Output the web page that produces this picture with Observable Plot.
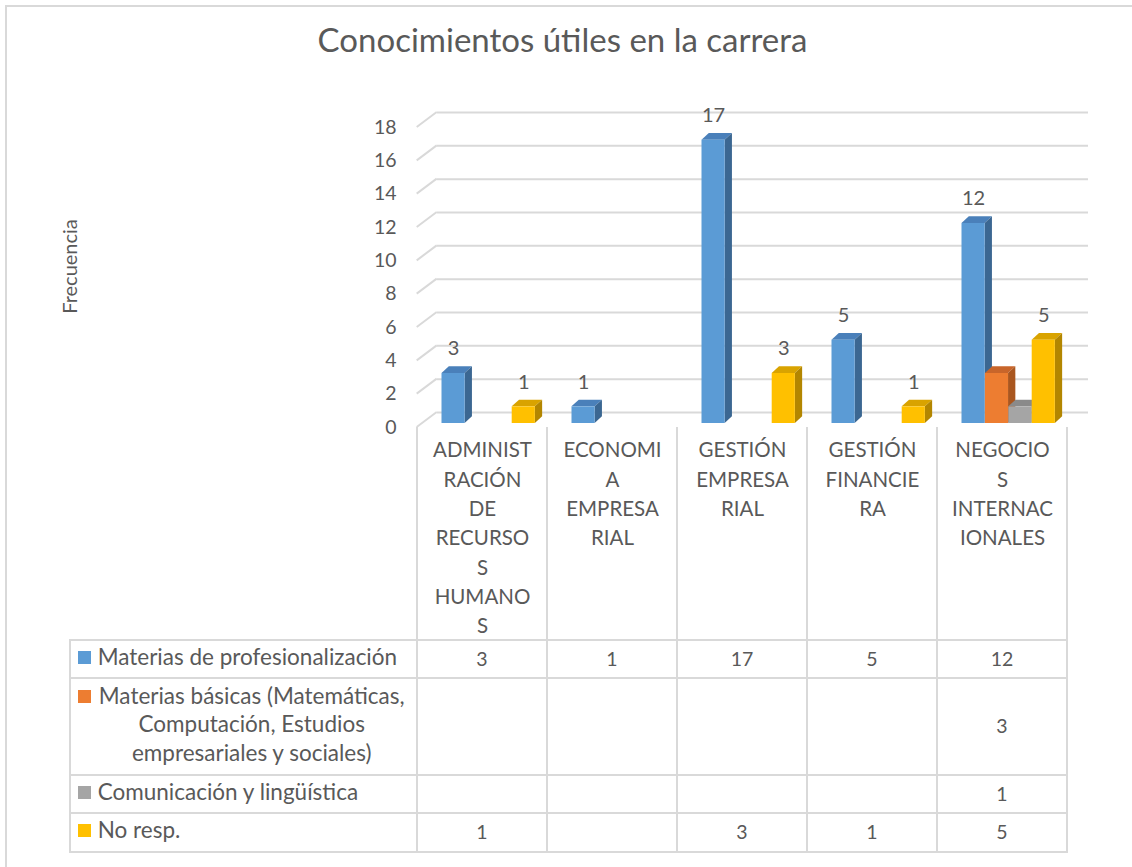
<!DOCTYPE html>
<html lang="es">
<head>
<meta charset="utf-8">
<script src="https://cdn.jsdelivr.net/npm/d3@7"></script>
<script src="https://cdn.jsdelivr.net/npm/@observablehq/plot@0.6"></script>
<style>
html,body{margin:0;padding:0;background:#fff;}
#wrap{position:relative;width:1132px;height:867px;overflow:hidden;font-family:Lato,"Open Sans",sans-serif;color:#595959;}
#frame{position:absolute;left:5px;top:5px;width:1200px;height:1000px;border-left:2px solid #d9d9d9;border-top:2px solid #d9d9d9;box-sizing:border-box;}
#title{position:absolute;left:0;width:1125px;top:22.7px;text-align:center;font-size:33px;line-height:33px;white-space:nowrap;}
#table,#chart{position:absolute;left:0;top:0;}
.hl{position:absolute;height:2px;background:#d9d9d9;}
.vl{position:absolute;width:2px;background:#d9d9d9;}
.cell{position:absolute;display:flex;align-items:center;font-size:22.5px;line-height:28.5px;}
.num{justify-content:center;font-size:19.5px;}
.inner{position:relative;transform:translateY(-2px);}
.key{position:absolute;left:0;width:13px;height:13px;}
</style>
</head>
<body>
<div id="wrap">
  <div id="frame"></div>
  <div id="title"></div>
  <div id="table"></div>
  <div id="chart"></div>
</div>
<script>
// ---------- data ----------
const categories = ["ADMINISTRACIÓN DE RECURSOS HUMANOS", "ECONOMIA EMPRESARIAL", "GESTIÓN EMPRESARIAL", "GESTIÓN FINANCIERA", "NEGOCIOS INTERNACIONALES"];
const categoryTickLabels = ["ADMINIST\nRACIÓN\nDE\nRECURSO\nS\nHUMANO\nS", "ECONOMI\nA\nEMPRESA\nRIAL", "GESTIÓN\nEMPRESA\nRIAL", "GESTIÓN\nFINANCIE\nRA", "NEGOCIO\nS\nINTERNAC\nIONALES"];
const seriesNames = ["Materias de profesionalización", "Materias básicas (Matemáticas, Computación, Estudios empresariales y sociales)", "Comunicación y lingüística", "No resp."];
const seriesLegendLines = [["Materias de profesionalización"], ["Materias básicas (Matemáticas,", "Computación, Estudios", "empresariales y sociales)"], ["Comunicación y lingüística"], ["No resp."]];
const profesionalizacion = [3, 1, 17, 5, 12];
const basicas = [null, null, null, null, 3];
const comunicacion = [null, null, null, null, 1];
const noResp = [1, null, 3, 1, 5];
const seriesValues = [profesionalizacion, basicas, comunicacion, noResp];
const showLabels = [true, false, false, true];
const yTicks = [0, 2, 4, 6, 8, 10, 12, 14, 16, 18];
const yMax = 18;
const titleText = "Conocimientos útiles en la carrera";
const yLabel = "Frecuencia";

// ---------- styles ----------
const frontColors = ["#5B9BD5", "#ED7D31", "#A5A5A5", "#FFC000"];
const topColors   = ["#4A80BA", "#C8652A", "#8A8A8A", "#D9A300"];
const sideColors  = ["#3B6792", "#A9561F", "#777777", "#B38600"];
const gridColor = "#d9d9d9";

// ---------- layout ----------
const W = 1132, H = 640;
const plotLeft = 416.7, plotRight = 1068, plotTop = 127, plotBottom = 427;
const depthX = 20, depthY = 15;      // side wall depth
const barDX = 7.3, barDY = 6.7;      // bar extrusion
const barShiftY = -4;
const barW = 23.4, barLead = 24.5;
const fs = 19.5;
const catFs = 20.5;
const band = (plotRight - plotLeft) / categories.length;

document.getElementById("title").textContent = titleText;

const marks = [];
marks.push(Plot.ruleY(yTicks, {dx: depthX, dy: -depthY, stroke: gridColor, strokeWidth: 2}));
marks.push(Plot.axisY(yTicks, {tickSize: 0, tickPadding: 20.7, fontSize: fs, label: null}));
seriesValues.forEach((vals, i) => {
  const data = categories.map((cat, j) => ({cat, value: vals[j]})).filter(d => d.value != null);
  marks.push(Plot.barY(data, {
    x: "cat", y: "value", fill: frontColors[i],
    insetLeft: barLead + i * barW, insetRight: band - barLead - (i + 1) * barW,
    dy: barShiftY
  }));
  if (showLabels[i]) marks.push(Plot.text(data, {
    x: "cat", y: "value", text: d => String(d.value),
    dx: barLead + (i + 0.5) * barW - band / 2, dy: barShiftY - 18.3,
    lineAnchor: "bottom", fontSize: 20
  }));
});
marks.push(Plot.text(categories, {
  x: d => d, text: (d, i) => categoryTickLabels[i],
  frameAnchor: "bottom", lineAnchor: "top", lineHeight: 29.3 / catFs, dy: 9.2, fontSize: catFs
}));
marks.push(Plot.text([yLabel], {
  text: d => d, frameAnchor: "left", textAnchor: "middle", rotate: -90,
  dx: 70.5 - plotLeft, dy: 266 - (plotTop + plotBottom) / 2, fontSize: 20
}));

const chart = Plot.plot({
  width: W, height: H,
  marginLeft: plotLeft, marginRight: W - plotRight, marginTop: plotTop, marginBottom: H - plotBottom,
  x: {type: "band", domain: categories, padding: 0, axis: null},
  y: {domain: [0, yMax]},
  style: {fontFamily: "Lato, sans-serif", fontSize: fs + "px", color: "#595959", background: "transparent", overflow: "visible"},
  marks
});
document.getElementById("chart").appendChild(chart);

// ---------- 3D decoration derived from the rendered bars ----------
const svgEl = chart.tagName.toLowerCase() === "svg" ? chart : chart.querySelector("svg");
const svg = d3.select(svgEl);
const NS = "http://www.w3.org/2000/svg";
const barGroups = svg.selectAll('g[aria-label="bar"]').nodes();
barGroups.forEach((g, i) => {
  Array.from(g.querySelectorAll("rect")).forEach(rect => {
    const x = +rect.getAttribute("x"), y = +rect.getAttribute("y");
    const w = +rect.getAttribute("width"), h = +rect.getAttribute("height");
    const top = document.createElementNS(NS, "polygon");
    top.setAttribute("points", `${x},${y} ${x + barDX},${y - barDY} ${x + w + barDX},${y - barDY} ${x + w},${y}`);
    top.setAttribute("fill", topColors[i]);
    const side = document.createElementNS(NS, "polygon");
    side.setAttribute("points", `${x + w},${y} ${x + w + barDX},${y - barDY} ${x + w + barDX},${y + h - barDY} ${x + w},${y + h}`);
    side.setAttribute("fill", sideColors[i]);
    g.insertBefore(top, rect);
    g.insertBefore(side, rect);
  });
});
const ys = chart.scale("y");
const gDiag = d3.create("svg:g");
svgEl.insertBefore(gDiag.node(), barGroups[0] || null);
yTicks.forEach(v => {
  gDiag.append("line")
    .attr("x1", plotLeft).attr("y1", ys.apply(v))
    .attr("x2", plotLeft + depthX).attr("y2", ys.apply(v) - depthY)
    .attr("stroke", gridColor).attr("stroke-width", 2);
});

// ---------- data table ----------
const xs = chart.scale("x");
const tableLeft = 70;
const colEdges = [tableLeft, ...categories.map(c => xs.apply(c)), xs.apply(categories[categories.length - 1]) + xs.bandwidth];
const rowEdges = [640, 678, 775, 813, 851.7];
const labelTop = plotBottom;
const table = document.getElementById("table");
function add(cls, css, html) {
  const d = document.createElement("div");
  d.className = cls;
  Object.assign(d.style, css);
  if (html != null) d.innerHTML = html;
  table.appendChild(d);
  return d;
}
const right = colEdges[colEdges.length - 1];
rowEdges.forEach(y => add("hl", {left: (tableLeft - 1) + "px", top: (y - 1) + "px", width: (right - tableLeft + 2) + "px"}));
add("vl", {left: (tableLeft - 1) + "px", top: (rowEdges[0] - 1) + "px", height: (rowEdges[4] - rowEdges[0] + 2) + "px"});
colEdges.slice(1).forEach(x => add("vl", {left: (x - 1) + "px", top: labelTop + "px", height: (rowEdges[4] - labelTop + 1) + "px"}));

seriesNames.forEach((name, i) => {
  const top = rowEdges[i], h = rowEdges[i + 1] - rowEdges[i];
  const lines = seriesLegendLines[i];
  const cell = add("cell", {left: tableLeft + "px", top: top + "px", width: (colEdges[1] - tableLeft) + "px", height: h + "px"});
  cell.title = name;
  const inner = document.createElement("div");
  inner.className = "inner";
  inner.style.marginLeft = "8px";
  const key = document.createElement("span");
  key.className = "key";
  key.style.background = frontColors[i];
  key.style.top = "8px";
  inner.appendChild(key);
  const txt = document.createElement("div");
  txt.style.marginLeft = "19.7px";
  txt.style.width = "308px";
  txt.style.textAlign = lines.length > 1 ? "center" : "left";
  txt.style.whiteSpace = "nowrap";
  txt.innerHTML = lines.join("<br>");
  inner.appendChild(txt);
  cell.appendChild(inner);
  seriesValues[i].forEach((v, j) => {
    add("cell num", {left: colEdges[j + 1] + "px", top: top + "px", width: (colEdges[j + 2] - colEdges[j + 1]) + "px", height: h + "px"}, v == null ? "" : String(v));
  });
});
</script>
</body>
</html>
